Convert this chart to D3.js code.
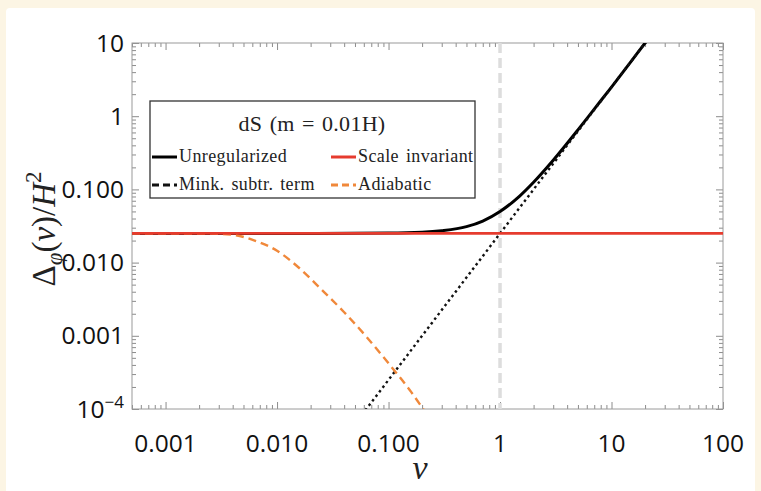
<!DOCTYPE html>
<html lang="en">
<head>
    <meta charset="UTF-8">
    <title>dS two-point function</title>
    <style>
        body {
            margin: 0;
            padding: 0;
            background-color: #fcf5e4; /* cream page */
        }
        svg {
            display: block;
        }
        .card {
            fill: #fff;
        }
        .frame {
            fill: none;
            stroke: #9a9a9a;
            stroke-width: 1;
        }
        .axis path {
            display: none;
        }
        .axis line {
            stroke: #8c8c8c;
        }
        .ticklabel {
            font-family: 'Open Sans', sans-serif;
            font-size: 24.5px;
            fill: #111;
        }
        .math {
            font-family: 'Liberation Serif', serif;
            fill: #222;
        }
        .legend text {
            font-family: 'Liberation Serif', serif;
            fill: #222;
        }
    </style>
</head>
<body>
    <svg id="chart" width="761" height="491"></svg>

    <script src="https://d3js.org/d3.v7.min.js"></script>
    <script>
// values (v, Delta/H^2)
const xDomain = [0.0005, 100];
const yDomain = [1e-4, 10];
const xMajor = [0.001, 0.01, 0.1, 1, 10, 100];
const xMajorLabels = ["0.001", "0.010", "0.100", "1", "10", "100"];
const yMajor = [1e-4, 0.001, 0.01, 0.1, 1, 10];
const yMajorLabels = ["10|-4", "0.001", "0.010", "0.100", "1", "10"];

const unregV = [0.0005, 0.01, 0.1, 0.2, 0.3, 0.5, 0.7, 1, 1.5, 2, 3, 5, 7, 10, 15, 20, 25];
const unregD = [0.025, 0.025, 0.0253, 0.026, 0.0273, 0.031, 0.037, 0.05, 0.081, 0.125, 0.25, 0.65, 1.25, 2.5, 5.6, 10, 15.6];

const scaleInvV = [0.0005, 100];
const scaleInvD = [0.025, 0.025];

const minkV = [0.05, 0.1, 0.3, 1, 3, 10, 25];
const minkD = [0.0000625, 0.00025, 0.00225, 0.025, 0.225, 2.5, 15.6];

const adiaV = [0.0005, 0.0025, 0.004, 0.0063, 0.01, 0.016, 0.025, 0.04, 0.063, 0.1, 0.16, 0.25];
const adiaD = [0.025, 0.0249, 0.024, 0.020, 0.0145, 0.0083, 0.0043, 0.0021, 0.00098, 0.00042, 0.00017, 0.000063];

const markerV = 1;

const svg = d3.select("#chart");

// white card on the cream page
svg.append("rect").attr("class", "card")
    .attr("x", 6).attr("y", 8).attr("width", 749).attr("height", 490).attr("rx", 4);

const plotLeft = 132, plotRight = 723, plotTop = 43, plotBottom = 409;

const x = d3.scaleLog().domain(xDomain).range([plotLeft, plotRight]);
const y = d3.scaleLog().domain(yDomain).range([plotBottom, plotTop]);

svg.append("defs").append("clipPath").attr("id", "plotclip")
    .append("rect")
    .attr("x", plotLeft).attr("y", plotTop)
    .attr("width", plotRight - plotLeft).attr("height", plotBottom - plotTop);

const xMinor = x.ticks().filter(t => !xMajor.some(m => Math.abs(m - t) / m < 1e-6));
const yMinor = y.ticks().filter(t => !yMajor.some(m => Math.abs(m - t) / m < 1e-6));

// ticks on all four sides, pointing inward
function addTicks(axisFn, scale, values, size, transform) {
    svg.append("g").attr("class", "axis")
        .attr("transform", transform)
        .call(axisFn(scale).tickValues(values).tickSize(-size).tickFormat(""));
}
addTicks(d3.axisBottom, x, xMajor, 7, `translate(0,${plotBottom})`);
addTicks(d3.axisBottom, x, xMinor, 4, `translate(0,${plotBottom})`);
addTicks(d3.axisTop, x, xMajor, 7, `translate(0,${plotTop})`);
addTicks(d3.axisTop, x, xMinor, 4, `translate(0,${plotTop})`);
addTicks(d3.axisLeft, y, yMajor, 7, `translate(${plotLeft},0)`);
addTicks(d3.axisLeft, y, yMinor, 4, `translate(${plotLeft},0)`);
addTicks(d3.axisRight, y, yMajor, 7, `translate(${plotRight},0)`);
addTicks(d3.axisRight, y, yMinor, 4, `translate(${plotRight},0)`);

svg.append("rect").attr("class", "frame")
    .attr("x", plotLeft).attr("y", plotTop)
    .attr("width", plotRight - plotLeft).attr("height", plotBottom - plotTop);

// tick labels
svg.selectAll(".xlab").data(xMajor).enter().append("text")
    .attr("class", "ticklabel")
    .attr("x", d => x(d))
    .attr("y", plotBottom + 43)
    .attr("text-anchor", "middle")
    .text((d, i) => xMajorLabels[i]);

yMajor.forEach((d, i) => {
    const parts = yMajorLabels[i].split("|");
    const t = svg.append("text").attr("class", "ticklabel")
        .attr("x", plotLeft - 8)
        .attr("y", y(d) + 8.5)
        .attr("text-anchor", "end")
        .text(parts[0]);
    if (parts.length > 1) {
        t.append("tspan").attr("dy", -10).attr("font-size", "17px").text("\u2212" + parts[1].replace("-", ""));
    }
});

// axis titles
const ylab = svg.append("text").attr("class", "math")
    .attr("transform", "translate(55,229) rotate(-90)")
    .attr("text-anchor", "middle")
    .attr("font-size", "33px");
ylab.append("tspan").text("\u0394");
ylab.append("tspan").attr("font-style", "italic").attr("font-size", "23px").attr("dy", 7).text("\u03c6");
ylab.append("tspan").attr("dy", -7).text("(");
ylab.append("tspan").attr("font-style", "italic").text("v");
ylab.append("tspan").text(")/");
ylab.append("tspan").attr("font-style", "italic").text("H");
ylab.append("tspan").attr("font-size", "23px").attr("dy", -14).text("2");

svg.append("text").attr("class", "math")
    .attr("x", 420)
    .attr("y", 479)
    .attr("text-anchor", "middle")
    .attr("font-size", "34px")
    .attr("font-style", "italic")
    .text("v");

// curves
const plot = svg.append("g").attr("clip-path", "url(#plotclip)");

plot.append("line")
    .attr("x1", x(markerV)).attr("x2", x(markerV))
    .attr("y1", y(yDomain[1])).attr("y2", y(yDomain[0]))
    .attr("stroke", "#dddddd").attr("stroke-width", 3.5)
    .attr("stroke-dasharray", "10,5");

const line = d3.line()
    .x(d => x(d[0]))
    .y(d => y(d[1]))
    .curve(d3.curveMonotoneX);

function series(vs, ds) { return vs.map((v, i) => [v, ds[i]]); }

plot.append("path").datum(series(unregV, unregD))
    .attr("d", line).attr("fill", "none")
    .attr("stroke", "#000").attr("stroke-width", 3);

plot.append("path").datum(series(minkV, minkD))
    .attr("d", line).attr("fill", "none")
    .attr("stroke", "#111").attr("stroke-width", 2.4)
    .attr("stroke-dasharray", "2.5,3.2");

plot.append("path").datum(series(adiaV, adiaD))
    .attr("d", line).attr("fill", "none")
    .attr("stroke", "#f0883a").attr("stroke-width", 2.4)
    .attr("stroke-dasharray", "8,5");

plot.append("path").datum(series(scaleInvV, scaleInvD))
    .attr("d", line).attr("fill", "none")
    .attr("stroke", "#e63b2e").attr("stroke-width", 2.8);

// legend
const legend = svg.append("g").attr("class", "legend");
legend.append("rect")
    .attr("x", 150).attr("y", 101).attr("width", 325).attr("height", 97)
    .attr("fill", "#fff").attr("stroke", "#333").attr("stroke-width", 1.3);
legend.append("text")
    .attr("x", 312).attr("y", 131)
    .attr("text-anchor", "middle")
    .attr("font-size", "22px")
    .attr("letter-spacing", "0.3px")
    .attr("word-spacing", "1.5px")
    .text("dS (m = 0.01H)");

const legendItems = [
    { label: "Unregularized", color: "#000", dash: null, x: 152, y: 157 },
    { label: "Scale invariant", color: "#e63b2e", dash: null, x: 331, y: 157 },
    { label: "Mink. subtr. term", color: "#111", dash: "7,4", x: 152, y: 185 },
    { label: "Adiabatic", color: "#f0883a", dash: "7,4", x: 331, y: 185 }
];
legendItems.forEach(it => {
    legend.append("line")
        .attr("x1", it.x).attr("x2", it.x + 25)
        .attr("y1", it.y).attr("y2", it.y)
        .attr("stroke", it.color).attr("stroke-width", 3)
        .attr("stroke-dasharray", it.dash);
    legend.append("text")
        .attr("x", it.x + 27).attr("y", it.y + 5)
        .attr("font-size", "18px")
        .attr("letter-spacing", "0.4px")
        .attr("word-spacing", "2px")
        .text(it.label);
});
    </script>
</body>
</html>
